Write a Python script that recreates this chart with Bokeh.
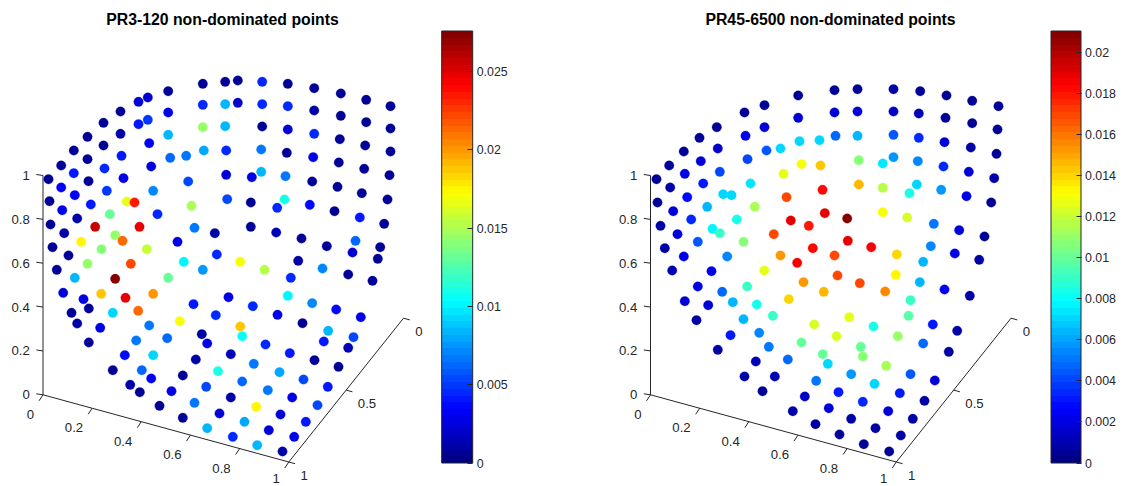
from bokeh.plotting import figure
from bokeh.layouts import row
from bokeh.models import ColorBar, LinearColorMapper, FixedTicker, ColumnDataSource
from bokeh.core.properties import value
from bokeh.embed import file_html
from bokeh.resources import INLINE
import numpy as np

# Projected view-plane positions (3-D view) and the colour value of every point
left_title = "PR3-120 non-dominated points"
left_x = [48,60.7,73.3,87,103,120,138,147.3,167.7,202.3,224.7,
 60.7,73.3,87,103,120,138,147.3,167.7,202.3,224.7,
 49,61.7,74.3,88,104,121,148.7,167.7,202.3,224.7,
 50,63.7,76.7,90.3,106.3,123,150.7,169.7,185.7,203.3,225.7,
 52,68,80.7,94.7,109.3,126.3,134,152.7,187.7,225.7,
 56.3,87,101,114.7,122,139,157,191,226.7,
 130.3,146.3,177,194,214.3,216.3,183.3,202.3,
 237.3,261.7,287.3,313.7,340.3,365.7,390,
 237.3,261.7,287.3,313.7,340.3,365.7,390,
 261.7,287.3,313.7,339.3,364.7,390,
 260.7,286.3,312.7,338.3,363.7,389,
 251.3,260.7,285,311.7,337,361.3,387,
 250.3,284,276.7,309.3,334,359.3,383.7,
 250.3,275.7,301,326.3,355,352,379.7,377.3,
 239.7,264,297.7,322,
 347.7,372,290.3,228,252.3,277,287.3,311.7,335.7,360.3,
 302,239.7,241.7,265,289.3,314,338,327.7,323.3,353,
 347.7,230.3,253.3,279,303,327.3,241.7,267.3,291.7,317,
 217.5,230.3,255.7,280,305.3,219,244,268.3,293.7,232.3,256.7,282,
 74.3,114.7,167.7,62.7,83,100.7,125,152.7,193,
 71,88.3,112.3,137.7,215.3,76.7,99.7,148.7,179.3,201.3,
 88.3,135.7,166.7,206.7,124.3,152.7,195.3,112.3,141.3,150.7,182.3,
 129.7,139.3,171,205.7,159,194,182.3,206.7]
left_y = [178.7,165,150,136.3,122.3,111,101.3,97,90.7,83.3,81.3,
 187,172.7,158.7,145,133.3,123.7,119.3,112,104.3,103.7,
 200.7,209.7,194.7,180.7,168,155.3,142.7,134.3,126.7,125.7,
 224,232.7,218,204,190.3,177.7,166,157.3,155.3,150,150,
 246.7,255,241.3,226.3,213.7,201,202,190.3,181,174.3,
 269.3,263.3,248.7,234.7,240.3,226.3,213.7,205.3,198.7,
 263.3,248.7,241.3,227.3,232.7,254,261.3,269.3,
 80,81.3,83.3,87.7,93,99.3,105.7,
 102.3,103.7,105.7,110,115.3,121.7,128,
 126,129,133.3,138.7,145,151,
 149,152.3,156.7,162,168.3,174.7,
 176.7,171.3,175.7,181,186.3,192.7,199,
 202,199,207.3,204.3,210.7,217,223.3,
 226.3,232,238,245.7,240.3,252,246.7,258.3,
 261.3,269.3,260.3,268,
 274,280.3,277.3,296.7,305.7,314.3,295.3,302.7,309,316.7,
 322.7,326,335.7,344,352.7,359.7,366.3,330.3,341,336.7,
 347.3,353.7,363.3,371.7,379,386.3,381,389.7,397,404.7,
 370.7,397,406.3,414,421.3,413,421.3,429.7,436.3,436.3,444.7,451,
 277.3,278.3,277.3,292.3,298.7,293.3,297.3,293.3,303.7,
 312.3,308,312.3,310.3,314.7,323,327.3,325,320.7,333.7,
 342,340,337.7,343,354.7,354.7,359,369.7,369.7,378,375,
 384.3,391.7,390.7,386.3,405.3,402.3,417.3,427.7]
left_v = [.0006,.0006,.0006,.0006,.0006,.0006,.0022,.0022,.0006,.0006,.0006,
 .0033,.0039,.0006,.0006,.0012,.0042,.005,.0028,.0047,.0083,
 .0006,.0028,.0033,.0006,.0047,.0042,.0033,.0083,.0144,.0086,
 .0006,.0012,.0012,.0042,.005,.0028,.0022,.0061,.0066,.0078,.0047,
 .0006,.0008,.0175,.0258,.013,.0166,.0233,.0069,.0053,.0022,
 .0006,.0144,.0139,.0144,.0213,.0249,.0047,.0147,.0055,
 .0224,.0158,.0028,.0066,.0012,.0044,.01,.0075,
 .0006,.0044,.0006,.0006,.0006,.0006,.0006,
 .0019,.0047,.0047,.0012,.0006,.0006,.0006,
 .0008,.0022,.0047,.0006,.0006,.0006,
 .0066,.0008,.0028,.0006,.0006,.0006,
 .0028,.0083,.0066,.0008,.0006,.0006,.0006,
 .0008,.0108,.0047,.0036,.0008,.0039,.0006,
 .0008,.0015,.0008,.0008,.0061,.0022,.0008,.0008,
 .0172,.0152,.0012,.0069,
 .0006,.0006,.0047,.0028,.0047,.003,.01,.0069,.0036,.0028,
 .0008,.0188,.0105,.0047,.0042,.0008,.0008,.0083,.0042,.0053,
 .0015,.0015,.0066,.0078,.0053,.0042,.0064,.0066,.0028,.0053,
 .0111,.0012,.0175,.0022,.0042,.0022,.008,.0022,.0028,.0047,.0083,.0012,
 .0086,.0276,.0133,.0022,.0028,.0188,.0249,.0202,.0039,
 .0008,.0008,.0091,.0213,.0047,.0012,.0028,.0066,.0172,.0012,
 .0008,.0066,.0061,.0028,.0036,.0094,.0012,.0008,.0064,.0033,.0008,
 .0012,.0008,.003,.0055,.0008,.0066,.0008,.0083]

right_title = "PR45-6500 non-dominated points"
right_x = [656,668.7,683.3,699,716.3,744,764,797.7,834,
 669.7,684.3,700.3,717.3,745,764,797.7,834,
 657,672.7,686.7,702.7,719.3,747,766,780,799,819,835,
 660,677,690.7,706.7,722.7,731,750,754.3,783,801,820,786,822,
 664.3,683.3,697.3,712,719.3,736.3,743,773.3,790.3,808.3,824.3,
 671.7,711,726.7,763.7,780,796.7,812.3,834,
 857,893,919.7,946,971.7,998,
 857,893,918.3,945,971.7,997,
 857,893,918.3,944,970.3,996,
 858.3,882.3,893,917.3,943,968.3,993.7,
 858.3,882.3,916.3,909,940.7,966,990.7,
 846.7,882.3,906.7,933.3,958.7,984,
 847.3,870.7,896.3,930.3,954.3,978.7,922.7,
 837,859.3,895.3,919.3,944,969.3,884.7,910,848.7,908,
 873,932.3,956.7,836,897.3,922.7,948.3,860.3,862.3,885.7,
 827.3,850.7,910,934.3,874,838,899.3,924,862.3,887.7,
 912.3,828.3,850.7,875,900.3,839,863.3,888.7,
 697.3,721.7,746.7,803,823.3,684.3,707.7,732.3,756.3,788.3,
 696,743,772.3,813.7,730,758.7,801,717.3,768.3,822.3,
 755.3,787.3,744,774.3,815.7,762,804.3,792.3,815]
right_y = [178.7,165,151,137.3,126.7,112,104.7,95,89.7,
 187,173.3,160.7,148,135.3,126.7,117.3,112,
 202,210.7,196.7,183,171.3,158.7,150,148,140.7,139.7,135.3,
 225.3,233.7,219,206.3,193.7,194.7,183,206.3,173.3,163.7,165,196.7,189.3,
 247.7,256,241.3,228.3,232.7,219,241.3,233.7,220,225.3,212.7,
 270,270.7,256,270,255,262.3,247.7,255,
 88.7,88.7,90.7,95,100.3,105.7,
 111,111,113,117.3,122.7,129,
 135.3,134.3,137.3,141.7,147,153.3,
 159.7,163,156.7,160.7,166,171.3,177.7,
 184,187.3,184,192.7,189.3,195.7,202,
 218,211.7,217,223.3,229.7,236,
 240.3,246.7,254,245.7,253,259.3,261.3,
 275,282.7,274.3,281.7,289,295.3,291,299.7,316.7,315.3,
 326,324,330.3,335.7,335.7,343,351.3,346.3,356,365.3,
 363.3,373.7,373.7,380,383.3,391.7,392.7,400.3,401.3,410.7,
 418.3,407.7,418.3,427.7,435,434,443.7,451,
 286,291.3,286,281.7,291.3,300.7,304.7,301.7,304,298.7,
 319.7,318.7,315.3,324,334.7,332.3,342,349.3,346.3,353.7,
 361,359,376,376,380.3,390.7,396,410.7,423.7]
right_v = [.0005,.0006,.0006,.0006,.0006,.0006,.0006,.0006,.0006,
 .0009,.0021,.0017,.0015,.0021,.0019,.0019,.0019,
 .0006,.0017,.0027,.003,.004,.0042,.0046,.0072,.007,.007,.0049,
 .0009,.0019,.0036,.0063,.007,.007,.0074,.0114,.0127,.0131,.0143,.0169,.0184,
 .0009,.0021,.0046,.0076,.0089,.0084,.0106,.0169,.019,.0179,.0188,
 .0013,.0023,.0055,.0127,.0154,.0186,.0184,.0169,
 .0006,.0009,.0006,.0006,.0006,.0006,
 .0017,.0015,.0013,.0006,.0006,.0006,
 .0063,.0046,.0036,.0017,.0009,.0006,
 .0106,.0074,.0057,.0055,.0036,.0017,.0009,
 .0148,.0116,.007,.0084,.0057,.0021,.0006,
 .0210,.0131,.0124,.0051,.0017,.0006,
 .019,.0186,.0139,.0053,.0021,.0009,.0065,
 .0169,.0169,.0133,.0065,.0025,.0009,.0156,.0089,.0127,.0097,
 .0084,.0032,.0009,.0122,.011,.0049,.0009,.0101,.0106,.0114,
 .0072,.0057,.0044,.0019,.007,.0032,.0032,.0009,.0036,.0019,
 .0009,.0019,.0009,.0009,.0009,.0006,.0006,.0006,
 .0021,.0049,.0089,.0152,.0148,.0019,.0019,.0065,.0084,.0139,
 .0009,.0063,.0089,.0122,.003,.0053,.0099,.0009,.0051,.0099,
 .0013,.0049,.0009,.0013,.0051,.0006,.0015,.0009,.0009]

z_ticks = [0, 0.2, 0.4, 0.6, 0.8, 1]
x_ticks = [0, 0.2, 0.4, 0.6, 0.8, 1]
y_ticks = [0, 0.5, 1]
z_labels = ["0", "0.2", "0.4", "0.6", "0.8", "1"]
x_labels = ["0", "0.2", "0.4", "0.6", "0.8", "1"]
y_labels = ["0", "0.5", "1"]
left_bar_ticks = [0, 0.005, 0.01, 0.015, 0.02, 0.025]
left_bar_labels = ["0", "0.005", "0.01", "0.015", "0.02", "0.025"]
right_bar_ticks = [0, 0.002, 0.004, 0.006, 0.008, 0.01, 0.012, 0.014, 0.016, 0.018, 0.02]
right_bar_labels = ["0", "0.002", "0.004", "0.006", "0.008", "0.01", "0.012", "0.014", "0.016", "0.018", "0.02"]
left_max = 0.0276
right_max = 0.02107

FONT = "Liberation Sans"
INK = "#262626"


def jet(n=64):
    out = []
    for i in range(n):
        t = (i + 0.5) / n
        r = np.clip(min(4 * t - 1.5, -4 * t + 4.5), 0, 1)
        g = np.clip(min(4 * t - 0.5, -4 * t + 3.5), 0, 1)
        b = np.clip(min(4 * t + 0.5, -4 * t + 2.5), 0, 1)
        out.append("#%02x%02x%02x" % (int(r * 255), int(g * 255), int(b * 255)))
    return out


PAL = jet()


def panel(xs, ys, vs, title, vmax, bticks, blabels, x0, width, dx, title_x, bar_x, bar_w):
    p = figure(width=width, height=486, x_range=(x0, x0 + width), y_range=(486, 0),
               output_backend="svg", toolbar_location=None, min_border=0,
               outline_line_color=None)
    p.axis.visible = False
    p.grid.visible = False
    p.background_fill_color = "#ffffff"

    mapper = LinearColorMapper(palette=PAL, low=0, high=vmax)

    # 3-D box edges as projected in this view
    ox, oy = 42.5 + dx, 394.3
    xex, xey = 288.3 + dx, 461.5
    yex, yey = 403.0 + dx, 317.7
    zty = 175.0
    p.segment([ox, ox, xex], [oy, oy, xey], [ox, xex, yex], [zty, xey, yey],
              line_color=INK, line_width=1)

    zt = np.array(z_ticks); xt = np.array(x_ticks); yt = np.array(y_ticks)
    zy = oy + (zty - oy) * zt
    p.segment(np.full(6, ox), zy, np.full(6, ox - 6.7), zy - 1, line_color=INK, line_width=1)
    xtx = ox + (xex - ox) * xt
    xty = oy + (xey - oy) * xt
    p.segment(xtx, xty, xtx - 4, xty + 6, line_color=INK, line_width=1)
    ytx = yex + (xex - yex) * yt
    yty = yey + (xey - yey) * yt
    p.segment(ytx, yty, ytx + 6.3, yty + 1.7, line_color=INK, line_width=1)

    style = dict(text_font=value(FONT), text_font_size="13.2px", text_color=INK, text_baseline="middle")
    p.text(np.full(6, ox - 13.2), zy, text=z_labels, text_align="right", **style)
    # the last x label sits just inside the bottom edge of the page
    x_label_y = np.minimum(xty + 19.5, 478.0)
    p.text(xtx - 9, x_label_y, text=x_labels, text_align="right", **style)
    p.text(ytx + 11.7, yty + 13.6, text=y_labels, text_align="left", **style)

    src = ColumnDataSource(dict(x=xs, y=ys, v=vs))
    p.scatter("x", "y", source=src, size=9.5, marker="circle",
              fill_color={"field": "v", "transform": mapper},
              line_color={"field": "v", "transform": mapper}, line_alpha=0.3, line_width=1)

    p.text([title_x], [19], text=[title], text_font=value(FONT), text_font_style="bold",
           text_font_size="15.8px", text_color="#000000", text_align="center", text_baseline="middle")

    cb = ColorBar(color_mapper=mapper, ticker=FixedTicker(ticks=bticks),
                  major_label_overrides=dict(zip(bticks, blabels)),
                  width=bar_w, height=432, location=(bar_x - x0, 486 - 462.5), padding=0,
                  bar_line_color=INK, bar_line_width=1, border_line_color=None,
                  background_fill_color=None,
                  major_tick_line_color=INK, major_tick_in=5, major_tick_out=0,
                  minor_tick_line_color=None,
                  major_label_text_font=FONT, major_label_text_font_size="12.4px",
                  major_label_text_color=INK, label_standoff=4)
    p.add_layout(cb)
    return p


p1 = panel(left_x, left_y, left_v, left_title, left_max, left_bar_ticks, left_bar_labels,
           0, 564, 0, 222, 441.2, 31)
p2 = panel(right_x, right_y, right_v, right_title, right_max, right_bar_ticks, right_bar_labels,
           564, 564, 607.5, 830, 1050.5, 30)
layout = row(p1, p2)
open("out.html", "w").write(file_html(layout, INLINE))
